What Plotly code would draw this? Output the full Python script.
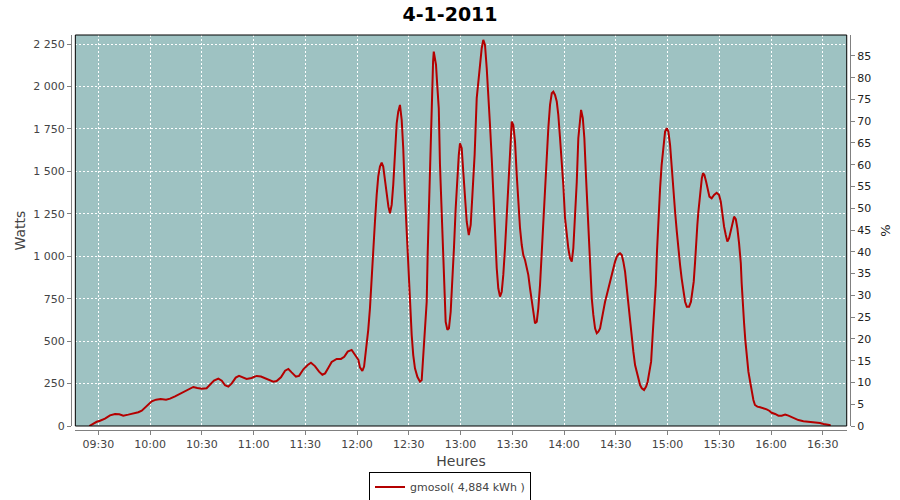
import pandas as pd
import plotly.graph_objects as go

# Time of each sample, in minutes after midnight (4 Jan 2011)
minutes = [
    564.8, 567.1, 569.1, 571.0, 573.9, 576.8, 579.7, 582.2, 584.5, 587.4,
    590.3, 593.2, 595.2, 597.1, 599.0, 601.0, 603.5, 606.2, 609.3, 611.6,
    614.5, 617.4, 620.3, 622.8, 625.1, 627.4, 630.0, 632.8, 634.8, 637.1,
    639.6, 641.6, 643.5, 645.4, 647.4, 649.7, 651.6, 654.1, 656.0, 658.9,
    661.8, 664.3, 666.7, 669.6, 671.5, 673.4, 675.9, 678.3, 680.2, 682.1,
    684.6, 686.4, 688.9, 691.4, 693.3, 695.6, 698.0, 699.9, 701.5, 703.4,
    705.3, 708.2, 710.7, 712.6, 714.6, 716.9, 718.8, 720.8, 721.7, 723.1,
    724.1, 725.2, 726.5, 727.5, 728.5, 729.4, 730.4, 731.4, 732.3, 733.3,
    734.3, 735.2, 736.2, 737.2, 738.2, 739.1, 740.1, 741.0, 742.0, 743.0,
    743.9, 744.9, 745.9, 746.8, 747.8, 748.8, 749.7, 750.7, 751.7, 752.6,
    753.6, 755.0, 756.5, 757.5, 758.1, 758.8, 759.4, 760.4, 761.0, 761.7,
    762.5, 763.3, 764.1, 764.5, 765.2, 765.8, 766.5, 767.4, 768.1, 769.1,
    769.9, 770.6, 771.4, 772.4, 773.3, 774.3, 775.3, 776.2, 777.2, 778.2,
    779.0, 779.7, 780.7, 781.6, 782.6, 783.6, 784.8, 785.9, 786.9, 788.2,
    789.4, 790.3, 791.3, 792.3, 793.2, 794.2, 795.2, 796.1, 797.1, 798.1,
    799.0, 800.0, 801.0, 801.9, 802.9, 803.9, 804.8, 805.8, 806.8, 807.7,
    808.7, 809.7, 810.6, 811.6, 812.6, 813.5, 814.5, 815.5, 816.4, 817.4,
    818.4, 819.3, 820.3, 821.3, 822.2, 823.2, 824.2, 825.1, 826.1, 827.1,
    828.0, 829.0, 830.0, 830.9, 831.9, 832.9, 833.8, 834.8, 835.8, 836.7,
    837.7, 838.7, 839.6, 840.6, 841.6, 842.5, 843.5, 844.5, 845.4, 846.4,
    847.4, 848.3, 849.3, 849.9, 850.9, 851.8, 852.8, 853.8, 855.1, 856.1,
    857.0, 858.0, 859.0, 859.9, 860.9, 861.9, 862.8, 863.8, 864.8, 865.7,
    866.7, 867.7, 868.6, 869.6, 870.6, 871.5, 872.5, 873.5, 874.4, 875.4,
    876.4, 877.3, 878.3, 879.3, 880.2, 881.2, 882.2, 883.1, 884.1, 885.1,
    886.4, 887.6, 888.5, 889.5, 890.5, 891.4, 892.4, 893.2, 893.9, 894.7,
    895.7, 896.6, 897.6, 898.6, 899.6, 900.5, 901.5, 902.5, 903.4, 904.4,
    905.4, 906.3, 907.3, 908.2, 909.2, 910.2, 911.2, 912.5, 913.6, 914.4,
    915.2, 916.0, 916.6, 917.3, 917.9, 918.9, 919.9, 920.6, 921.4, 922.4,
    923.3, 924.3, 925.6, 927.0, 928.5, 929.9, 930.9, 931.8, 932.8, 933.8,
    934.7, 935.7, 936.7, 937.6, 938.6, 939.6, 940.5, 941.5, 942.5, 943.0,
    943.6, 944.4, 945.1, 945.9, 946.9, 947.9, 948.8, 949.8, 950.7, 952.1,
    953.7, 955.6, 957.5, 959.0, 960.4, 962.4, 964.3, 966.2, 968.2, 970.1,
    972.0, 973.9, 975.9, 978.8, 981.7, 984.6, 986.5, 988.4, 990.4, 992.3,
    993.8, 994.6,
]

# Power in watts at each sample
watts = [
    0, 16, 25, 31, 43, 63, 71, 69, 61, 67,
    72, 81, 90, 108, 130, 145, 155, 159, 155, 161,
    175, 190, 208, 222, 230, 224, 220, 222, 241, 267,
    279, 267, 240, 232, 251, 285, 295, 283, 277, 283,
    295, 291, 281, 269, 261, 265, 287, 326, 336, 316,
    291, 295, 334, 359, 373, 353, 320, 302, 310, 343,
    377, 395, 395, 408, 438, 448, 420, 390, 345, 325,
    350, 445, 565, 693, 890, 1066, 1203, 1361, 1469, 1528,
    1551, 1528, 1439, 1380, 1292, 1253, 1302, 1420, 1596, 1783,
    1852, 1891, 1803, 1636, 1361, 1125, 929, 693, 536, 418,
    340, 290, 261, 271, 359, 438, 555, 732, 1027, 1321,
    1596, 1911, 2146, 2205, 2166, 2127, 2009, 1871, 1538, 1262,
    1027, 772, 614, 566, 575, 673, 850, 1047, 1282, 1498,
    1596, 1665, 1636, 1498, 1341, 1203, 1125, 1184, 1361, 1600,
    1931, 2028, 2146, 2225, 2274, 2244, 2107, 1969, 1773, 1577,
    1341, 1086, 929, 811, 762, 791, 890, 1047, 1243, 1459,
    1675, 1793, 1773, 1675, 1479, 1321, 1165, 1066, 1007, 978,
    929, 890, 811, 732, 654, 605, 614, 693, 831, 1027,
    1262, 1439, 1616, 1754, 1891, 1960, 1969, 1950, 1911, 1832,
    1695, 1557, 1420, 1224, 1125, 1047, 988, 968, 1047, 1224,
    1439, 1695, 1832, 1862, 1813, 1695, 1460, 1220, 968, 752,
    654, 575, 546, 555, 575, 634, 693, 732, 772, 811,
    860, 900, 929, 968, 997, 1011, 1017, 1007, 968, 909,
    811, 713, 614, 536, 438, 359, 320, 281, 241, 222,
    212, 232, 261, 320, 379, 536, 673, 831, 1027, 1224,
    1400, 1538, 1655, 1734, 1754, 1734, 1655, 1498, 1361, 1262,
    1145, 1027, 948, 870, 791, 732, 703, 703, 732, 791,
    850, 968, 1106, 1184, 1262, 1380, 1459, 1489, 1479, 1439,
    1400, 1351, 1341, 1361, 1374, 1361, 1321, 1243, 1174, 1125,
    1086, 1106, 1145, 1194, 1233, 1218, 1165, 1076, 958, 841,
    703, 605, 507, 408, 320, 261, 202, 153, 124, 114,
    110, 106, 98, 90, 78, 71, 61, 61, 67, 61,
    51, 41, 35, 28, 25, 25, 24, 18, 12, 10,
    6, 2,
]

series_name = "gmosol( 4,884 kWh )"
chart_title = "4-1-2011"

watt_ticks = [0, 250, 500, 750, 1000, 1250, 1500, 1750, 2000, 2250]
watt_labels = ["0", "250", "500", "750", "1 000", "1 250", "1 500", "1 750", "2 000", "2 250"]
pct_ticks = list(range(0, 90, 5))

day = pd.Timestamp("2011-01-04")
times = [day + pd.Timedelta(minutes=m) for m in minutes]
x_start = day + pd.Timedelta(minutes=556.7)
x_end = day + pd.Timedelta(minutes=1003.9)

FONT = "DejaVu Sans"
TICK = dict(family=FONT, size=11, color="#444444")

fig = go.Figure()
fig.add_trace(go.Scatter(
    x=times, y=watts, mode="lines", name=series_name,
    line=dict(color="#B40000", width=2), showlegend=True,
))
# invisible trace to activate the percentage axis
fig.add_trace(go.Scatter(
    x=[times[0]], y=[0], yaxis="y2", mode="markers",
    marker=dict(opacity=0), showlegend=False, hoverinfo="skip",
))

fig.update_layout(
    width=900, height=500,
    margin=dict(l=0, r=0, t=0, b=0, autoexpand=False),
    paper_bgcolor="white",
    plot_bgcolor="#9EC2C2",
    title=dict(text="<b>%s</b>" % chart_title, x=0.5, xanchor="center",
               y=0.972, yanchor="middle",
               font=dict(family=FONT, size=19, color="black")),
    xaxis=dict(
        domain=[0.0837, 0.9408], anchor="free", position=0.14,
        type="date", range=[x_start, x_end],
        tick0=day + pd.Timedelta(minutes=570), dtick=1800000, tickformat="%H:%M",
        showline=True, linecolor="#808080", linewidth=1,
        ticks="outside", ticklen=4, tickcolor="#808080",
        showgrid=True, gridcolor="white", gridwidth=1, griddash="2px,2px",
        zeroline=False, tickfont=TICK,
        title=dict(text="Heures", font=dict(family=FONT, size=14, color="#444444"), standoff=5),
    ),
    yaxis=dict(
        domain=[0.148, 0.93], anchor="free", position=0.0789,
        range=[0, 2303], tickvals=watt_ticks, ticktext=watt_labels,
        showline=True, linecolor="#808080", linewidth=1,
        ticks="outside", ticklen=4, tickcolor="#808080",
        showgrid=True, gridcolor="white", gridwidth=1, griddash="2px,2px",
        zeroline=False, tickfont=TICK,
        title=dict(text="Watts", font=dict(family=FONT, size=14, color="#444444"), standoff=3),
    ),
    yaxis2=dict(
        overlaying="y", side="right", anchor="free", position=0.9444,
        range=[0, 89.8], tickvals=pct_ticks,
        showline=True, linecolor="#808080", linewidth=1,
        ticks="outside", ticklen=4, tickcolor="#808080",
        showgrid=False, zeroline=False,
        tickfont=dict(family=FONT, size=11, color="#222222"),
        title=dict(text="%", font=dict(family=FONT, size=13, color="#222222"), standoff=10),
    ),
    legend=dict(
        orientation="h", x=0.5, xanchor="center", y=0.026, yanchor="middle",
        bgcolor="white", bordercolor="black", borderwidth=1,
        font=dict(family=FONT, size=11, color="#444444"),
        itemwidth=30, tracegroupgap=0,
    ),
    shapes=[dict(type="rect", xref="x domain", yref="y domain", x0=0, x1=1, y0=0, y1=1,
                 line=dict(color="black", width=1), layer="above")],
)

fig.write_html("out.html", config={"displayModeBar": False},
               post_script="document.body.style.margin='0';document.body.style.padding='0';")
